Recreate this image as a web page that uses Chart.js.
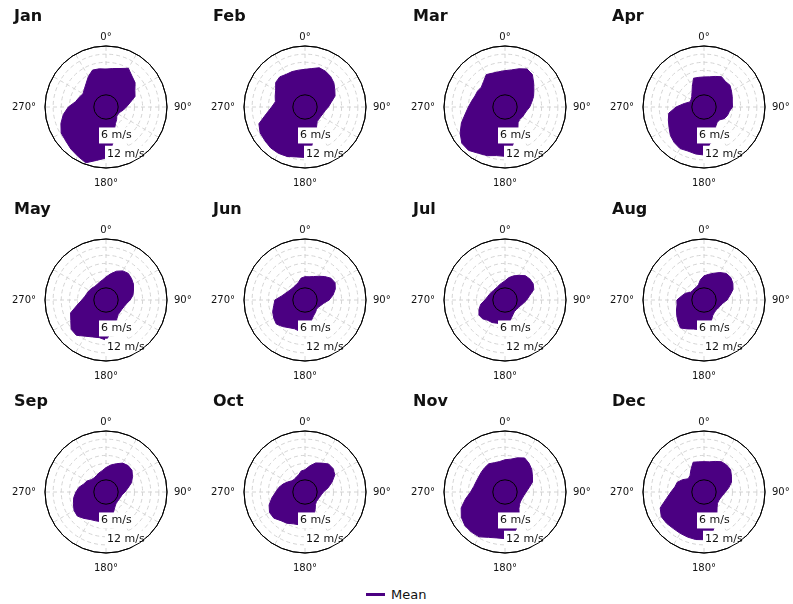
<!DOCTYPE html>
<html>
<head>
<meta charset="utf-8">
<script src="https://cdn.jsdelivr.net/npm/chart.js@4.4.1/dist/chart.umd.min.js"></script>
<style>
  body { margin: 0; background: #fff; width: 793px; height: 604px; position: relative; overflow: hidden; font-family: "DejaVu Sans", sans-serif; }
  canvas.panel { position: absolute; }
  #legend { position: absolute; left: 366px; top: 587px; font-size: 13px; line-height: 16px; color: #111; white-space: nowrap; }
  #legend .swatch { display: inline-block; width: 19px; height: 3px; background: #4b0082; vertical-align: middle; margin-right: 6px; position: relative; top: -1px; }
</style>
</head>
<body>
<div id="legend"><span class="swatch"></span>Mean</div>
<script>
// wind direction bins (degrees, clockwise from north)
const dirs = [0, 10, 20, 30, 40, 50, 60, 70, 80, 90, 100, 110, 120, 130, 140, 150, 160, 170,
              180, 190, 200, 210, 220, 230, 240, 250, 260, 270, 280, 290, 300, 310, 320, 330, 340, 350];

// mean wind speed (m/s) per direction bin, one array per month
const jan = [9.5, 9.9, 10.6, 12.0, 10.4, 9.5, 7.8, 6.9, 4.5, 3.0, 2.0, 1.0, 0.7, 0.7, 1.6, 2.5, 4.5, 9.5, 14.3, 15.5, 17.4, 16.4, 15.7, 14.9, 14.6, 13.2, 11.5, 9.4, 6.9, 6.0, 5.3, 5.9, 6.9, 8.5, 10.0, 9.8];
const feb = [9.4, 9.9, 10.9, 10.7, 10.2, 9.4, 8.2, 7.3, 5.3, 4.1, 3.1, 2.6, 2.3, 2.3, 2.5, 4.0, 6.0, 10.0, 14.1, 14.2, 14.9, 15.2, 15.2, 14.8, 14.6, 13.6, 10.0, 7.8, 6.6, 7.2, 8.0, 9.6, 10.0, 9.4, 9.4, 9.3];
const mar = [8.9, 9.4, 10.5, 11.7, 11.2, 9.3, 7.8, 6.7, 5.5, 4.6, 3.6, 3.1, 2.9, 2.6, 3.0, 5.0, 7.0, 10.5, 13.7, 13.7, 14.6, 15.2, 16.4, 16.3, 14.6, 12.6, 10.4, 9.0, 8.0, 7.3, 7.2, 6.9, 7.8, 9.3, 8.8, 8.7];
const apr = [6.6, 6.8, 7.5, 8.4, 7.8, 8.0, 7.2, 6.6, 6.1, 6.0, 5.0, 4.7, 4.1, 2.9, 3.0, 4.0, 5.5, 9.0, 13.2, 13.1, 12.8, 13.2, 12.6, 11.7, 10.4, 9.5, 8.7, 5.8, 2.9, 1.0, 1.0, 1.4, 2.4, 4.1, 6.8, 6.6];
const may = [4.0, 5.3, 6.8, 7.9, 8.3, 7.8, 7.2, 6.3, 5.6, 4.4, 3.2, 2.6, 2.3, 2.3, 2.5, 3.5, 5.0, 7.5, 10.3, 9.6, 10.0, 10.9, 12.5, 12.3, 10.5, 9.4, 6.3, 4.4, 3.4, 2.9, 2.6, 2.3, 2.0, 2.1, 2.5, 3.0];
const jun = [4.1, 4.2, 4.7, 5.6, 6.8, 8.0, 8.3, 7.4, 6.0, 4.4, 2.5, 1.6, 1.0, 1.0, 1.5, 2.0, 3.0, 5.0, 7.2, 7.2, 6.8, 7.3, 8.3, 9.3, 8.8, 8.2, 7.2, 6.6, 4.2, 3.0, 2.3, 1.9, 1.9, 2.0, 2.5, 3.7];
const jul = [2.6, 3.9, 5.0, 6.0, 7.2, 7.5, 7.5, 6.8, 4.7, 3.5, 2.4, 1.6, 1.2, 1.0, 1.0, 1.5, 2.5, 4.0, 4.5, 4.4, 4.6, 5.1, 5.3, 6.3, 6.6, 5.7, 4.6, 2.9, 2.1, 1.6, 1.3, 1.0, 1.0, 1.0, 1.5, 1.9];
const aug = [4.4, 5.1, 6.0, 7.2, 8.3, 8.4, 7.8, 6.9, 5.2, 4.0, 2.5, 1.9, 1.5, 1.3, 1.5, 2.0, 3.5, 5.5, 6.3, 6.6, 6.9, 7.8, 9.0, 8.0, 7.1, 6.3, 5.6, 5.5, 3.9, 2.8, 1.2, 1.0, 1.0, 1.0, 1.5, 3.1];
const sep = [4.5, 5.6, 6.6, 7.8, 8.2, 8.0, 6.8, 5.5, 3.7, 2.5, 1.5, 1.2, 1.0, 1.0, 1.2, 2.0, 3.5, 5.5, 6.3, 6.6, 6.8, 7.2, 8.2, 9.3, 9.1, 8.3, 7.6, 6.6, 5.6, 4.2, 3.6, 2.6, 2.3, 2.5, 3.0, 3.5];
const oct = [3.7, 5.2, 6.9, 7.8, 9.0, 9.0, 8.2, 6.1, 4.1, 2.3, 1.6, 1.2, 1.0, 1.0, 1.5, 3.0, 5.0, 7.5, 7.8, 7.8, 8.0, 8.8, 9.3, 10.5, 10.6, 9.6, 7.9, 6.3, 5.3, 4.1, 2.9, 1.9, 1.6, 1.9, 2.3, 3.4];
const nov = [7.4, 7.8, 8.9, 10.0, 9.3, 8.4, 7.2, 6.3, 4.5, 3.3, 2.6, 2.3, 2.2, 2.5, 3.5, 6.0, 9.0, 12.0, 12.7, 12.7, 13.3, 14.6, 14.8, 14.8, 14.1, 12.7, 10.3, 8.2, 7.2, 6.8, 6.7, 6.9, 7.2, 7.5, 7.0, 6.9];
const dec = [6.7, 6.8, 7.5, 8.4, 8.5, 8.3, 7.2, 6.3, 4.8, 3.4, 2.5, 2.0, 1.8, 2.0, 3.0, 5.0, 8.0, 11.5, 13.1, 13.3, 13.2, 13.1, 13.1, 13.5, 13.7, 12.7, 9.6, 7.7, 6.4, 6.0, 4.6, 3.1, 3.5, 5.1, 7.2, 6.8];

const months = ['Jan', 'Feb', 'Mar', 'Apr', 'May', 'Jun', 'Jul', 'Aug', 'Sep', 'Oct', 'Nov', 'Dec'];
const series = [jan, feb, mar, apr, may, jun, jul, aug, sep, oct, nov, dec];

// axis
const rMin = -4.5;
const rMax = 18;
const rings = [0, 3, 6, 9, 12, 15, 18];
const speedLabels = [6, 12];
const compassDirs = [0, 90, 180, 270];

const purple = '#4b0082';
const gridGrey = '#d4d4d4';

const polarDecor = {
    id: 'polarDecor',
    afterDatasetsDraw(chart) {
        const s = chart.scales.r;
        const ctx = chart.ctx;
        const cx = s.xCenter, cy = s.yCenter;
        ctx.save();
        ctx.setLineDash([]);
        ctx.lineWidth = 1;
        ctx.strokeStyle = '#000';
        ctx.beginPath();
        ctx.arc(cx, cy, s.getDistanceFromCenterForValue(0), 0, Math.PI * 2);
        ctx.stroke();

        //speed labels with white box
        ctx.font = '11px "DejaVu Sans"';
        ctx.textBaseline = 'middle';
        ctx.textAlign = 'left';
        const dx = [-5, 1];
        const dy = [0, 2];
        speedLabels.forEach((v, i) => {
            const txt = v + ' m/s';
            const x = cx + dx[i];
            const y = cy + s.getDistanceFromCenterForValue(v) + dy[i];
            const w = ctx.measureText(txt).width;
            ctx.fillStyle = '#fff';
            ctx.fillRect(x - 2, y - 8, w + 3, 16);
            ctx.fillStyle = '#111';
            ctx.fillText(txt, x, y);
        });

        ctx.beginPath();
        ctx.arc(cx, cy, s.getDistanceFromCenterForValue(rMax), 0, Math.PI * 2);
        ctx.stroke();

        //compass labels
        ctx.font = '10px "DejaVu Sans"';
        ctx.fillStyle = '#111';
        const gaps = { 0: 4, 90: 7, 180: 10, 270: 9 };
        compassDirs.forEach(d => {
            const idx = dirs.indexOf(d);
            const p = s.getPointPosition(idx, s.drawingArea + gaps[d]);
            ctx.textAlign = d === 90 ? 'left' : d === 270 ? 'right' : 'center';
            ctx.textBaseline = d === 0 ? 'bottom' : d === 180 ? 'top' : 'middle';
            ctx.fillText(d + '°', p.x, p.y);
        });
        ctx.restore();
    }
};

function makePanel(i) {
    const col = i % 4;
    const row = Math.floor(i / 4);
    const canvas = document.createElement('canvas');
    canvas.className = 'panel';
    canvas.width = 199;
    canvas.height = 193;
    canvas.style.left = Math.round(col * 199.3) + 'px';
    canvas.style.top = Math.round(row * 192.7) + 'px';
    document.body.appendChild(canvas);

    new Chart(canvas.getContext('2d'), {
        type: 'radar',
        data: {
            labels: dirs,
            datasets: [{
                label: 'Mean',
                data: series[i],
                backgroundColor: purple,
                borderColor: purple,
                borderWidth: 1,
                pointRadius: 0,
                tension: 0,
                fill: 'start'
            }]
        },
        options: {
            responsive: false,
            animation: false,
            layout: { padding: { left: 14, right: 1, top: 0, bottom: 25 } },
            plugins: {
                legend: { display: false },
                tooltip: { enabled: false },
                title: {
                    display: true,
                    text: months[i],
                    align: 'start',
                    color: '#111',
                    font: { family: 'DejaVu Sans', size: 16, weight: 'bold' },
                    padding: { top: 7, bottom: 19.8 }
                }
            },
            scales: {
                r: {
                    min: rMin,
                    max: rMax,
                    afterBuildTicks: axis => { axis.ticks = rings.map(v => ({ value: v })); },
                    ticks: { display: false },
                    pointLabels: { display: false },
                    grid: {
                        circular: true,
                        color: c => (c.tick && (c.tick.value === rMax)) ? '#000' : gridGrey,
                        lineWidth: 1
                    },
                    border: {
                        dash: c => (c.tick && (c.tick.value === rMax)) ? [] : [4, 3]
                    },
                    angleLines: {
                        color: c => c.index % 3 === 0 ? gridGrey : 'transparent',
                        borderDash: [4, 3]
                    }
                }
            }
        },
        plugins: [polarDecor]
    });
}

function main() {
    for (let i = 0; i < months.length; i++) {
        makePanel(i);
    }
}

main();
</script>
</body>
</html>
